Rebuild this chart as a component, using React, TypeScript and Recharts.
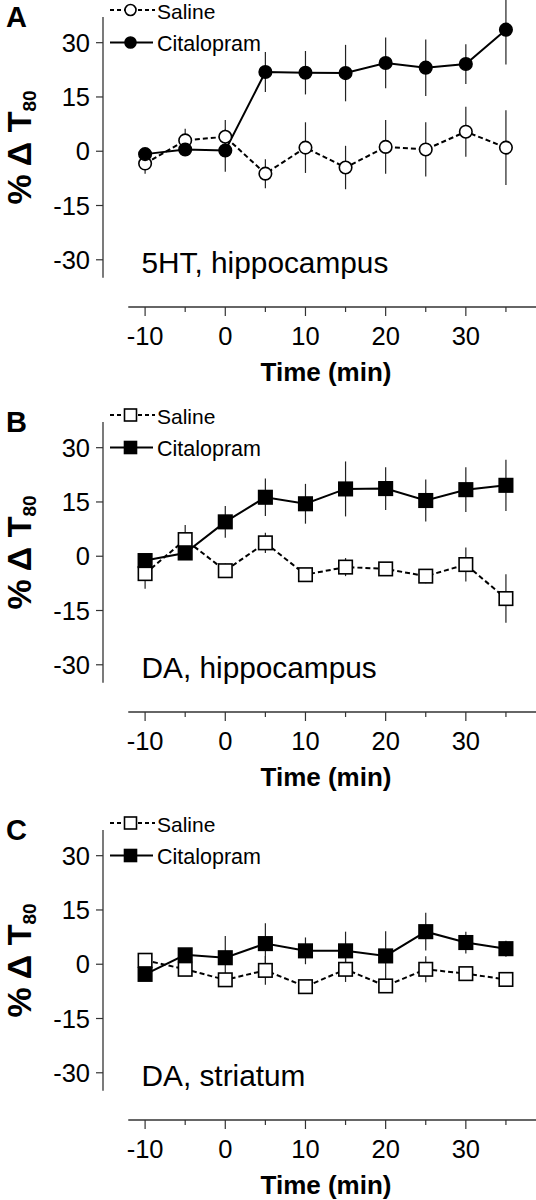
import React from 'react';
import { LineChart, Line, XAxis, YAxis, ErrorBar, ReferenceLine } from 'recharts';

// ---- data ----
const time = [-10, -5, 0, 5, 10, 15, 20, 25, 30, 35];
const xTicks = [-10, -5, 0, 5, 10, 15, 20, 25, 30, 35];
const xLabeled = [-10, 0, 10, 20, 30];
const yTicks = [-30, -15, 0, 15, 30];

const aSaline = [-3.4, 3.0, 4.0, -6.2, 1.0, -4.5, 1.2, 0.5, 5.4, 1.0];
const aSalineErr = [2.8, 3.2, 4.6, 4.0, 7.0, 6.0, 7.4, 7.5, 6.9, 10.3];
const aCit = [-0.8, 0.5, 0.2, 21.9, 21.7, 21.6, 24.4, 23.1, 24.1, 33.6];
const aCitErr = [1.5, 1.5, 5.9, 5.5, 6.0, 7.8, 7.0, 7.8, 5.5, 9.6];

const bSaline = [-4.8, 4.6, -4.0, 3.7, -5.1, -3.0, -3.5, -5.5, -2.3, -11.7];
const bSalineErr = [4.2, 4.0, 2.0, 2.8, 1.5, 2.5, 1.5, 2.0, 4.7, 6.7];
const bCit = [-1.2, 0.9, 9.5, 16.3, 14.5, 18.6, 18.7, 15.4, 18.4, 19.6];
const bCitErr = [1.5, 1.5, 4.4, 5.2, 5.5, 7.6, 5.9, 5.8, 6.2, 7.1];

const cSaline = [1.1, -1.4, -4.3, -1.7, -6.2, -1.4, -6.0, -1.4, -2.6, -4.2];
const cSalineErr = [1.5, 1.5, 1.5, 4.0, 1.5, 3.5, 1.5, 3.6, 1.5, 1.5];
const cCit = [-2.8, 2.6, 1.8, 5.7, 3.7, 3.7, 2.3, 9.0, 6.0, 4.3];
const cCitErr = [1.0, 1.5, 6.0, 5.6, 3.7, 5.3, 6.8, 5.2, 3.0, 2.2];

const seriesNames = ['Saline', 'Citalopram'];
const yLabelMain = '% \u0394 T';
const yLabelSub = '80';
const xLabel = 'Time (min)';

// ---- layout constants ----
const X_DOMAIN: [number, number] = [-15.25, 38.75];
const Y_DOMAIN: [number, number] = [-43.05, 37.1];
const X_LINE_START = -12.1;
const Y_LINE_BOTTOM = -35.0;
const FONT = '"Liberation Sans", Arial, Helvetica, sans-serif';

type PanelProps = {
  letter: string;
  note: string;
  saline: number[];
  salineErr: number[];
  cit: number[];
  citErr: number[];
  shape: 'circle' | 'square';
  top: number;
};

function makeDot(shape: 'circle' | 'square', filled: boolean, size: number) {
  return (p: any) => {
    const { cx, cy, index } = p;
    if (cx == null || cy == null) return <g key={`n${index}`} />;
    const fill = filled ? '#000' : '#fff';
    if (shape === 'circle') {
      return <circle key={`d${index}`} cx={cx} cy={cy} r={size / 2} fill={fill} stroke="#000" strokeWidth={1.6} />;
    }
    return (
      <rect key={`d${index}`} x={cx - size / 2} y={cy - size / 2} width={size} height={size} fill={fill} stroke="#000" strokeWidth={1.6} />
    );
  };
}

function LegendMark({ shape, filled, x, y }: { shape: 'circle' | 'square'; filled: boolean; x: number; y: number }) {
  const fill = filled ? '#000' : '#fff';
  if (shape === 'circle') return <circle cx={x} cy={y} r={5.5} fill={fill} stroke="#000" strokeWidth={1.6} />;
  return <rect x={x - 6} y={y - 6} width={12} height={12} fill={fill} stroke="#000" strokeWidth={1.6} />;
}

function Panel({ letter, note, saline, salineErr, cit, citErr, shape, top }: PanelProps) {
  const data = time.map((t, i) => ({
    t,
    sal: saline[i],
    salErr: salineErr[i],
    cit: cit[i],
    citErr: citErr[i],
  }));

  const xTick = (p: any) => {
    const v = p.payload.value;
    const major = xLabeled.includes(v);
    return (
      <g>
        <line x1={p.x} y1={p.y} x2={p.x} y2={p.y + (major ? 9 : 5)} stroke="#333" strokeWidth={1.2} />
        {major && (
          <text x={p.x} y={p.y + 38} textAnchor="middle" fontSize={25.5} fontFamily={FONT} fill="#000">
            {v}
          </text>
        )}
      </g>
    );
  };

  const yTick = (p: any) => (
    <g>
      <line x1={p.x} y1={p.y} x2={p.x - 7} y2={p.y} stroke="#333" strokeWidth={1.2} />
      <text x={p.x - 13} y={p.y + 9} textAnchor="end" fontSize={25.5} fontFamily={FONT} fill="#000">
        {p.payload.value}
      </text>
    </g>
  );

  return (
    <div style={{ position: 'absolute', left: 0, top, width: 536, height: 405 }}>
      <LineChart width={536} height={405} data={data} margin={{ top: 17, right: 0, bottom: 0, left: 0 }}>
        <XAxis
          dataKey="t"
          type="number"
          domain={X_DOMAIN}
          ticks={xTicks}
          allowDataOverflow
          axisLine={false}
          tickLine={false}
          tickSize={0}
          tickMargin={0}
          height={98}
          tick={xTick}
          interval={0}
        />
        <YAxis
          type="number"
          domain={Y_DOMAIN}
          ticks={yTicks}
          allowDataOverflow
          axisLine={false}
          tickLine={false}
          tickSize={0}
          tickMargin={0}
          width={103}
          tick={yTick}
          interval={0}
        />
        <ReferenceLine
          segment={[{ x: X_LINE_START, y: Y_DOMAIN[0] }, { x: X_DOMAIN[1], y: Y_DOMAIN[0] }]}
          stroke="#333"
          strokeWidth={1.3}
          ifOverflow="visible"
        />
        <ReferenceLine
          segment={[{ x: X_DOMAIN[0], y: Y_LINE_BOTTOM }, { x: X_DOMAIN[0], y: Y_DOMAIN[1] }]}
          stroke="#333"
          strokeWidth={1.3}
          ifOverflow="visible"
        />
        <Line
          dataKey="sal"
          type="linear"
          stroke="#000"
          strokeWidth={2}
          strokeDasharray="5 3"
          dot={makeDot(shape, false, shape === 'circle' ? 12.5 : 13.5)}
          activeDot={false}
          isAnimationActive={false}
        >
          <ErrorBar dataKey="salErr" direction="y" width={0} stroke="#222" strokeWidth={1.2} />
        </Line>
        <Line
          dataKey="cit"
          type="linear"
          stroke="#000"
          strokeWidth={2}
          dot={makeDot(shape, true, shape === 'circle' ? 12.5 : 13.5)}
          activeDot={false}
          isAnimationActive={false}
        >
          <ErrorBar dataKey="citErr" direction="y" width={0} stroke="#222" strokeWidth={1.2} />
        </Line>

        {/* panel letter */}
        <text x={6} y={27} fontSize={29} fontWeight="bold" fontFamily={FONT} fill="#000">
          {letter}
        </text>
        {/* y label */}
        <text
          transform="translate(31,147.5) rotate(-90)"
          textAnchor="middle"
          fontSize={34}
          fontWeight="bold"
          fontFamily={FONT}
          fill="#000"
        >
          {yLabelMain}
          <tspan fontSize={19} dy={5}>
            {yLabelSub}
          </tspan>
        </text>
        {/* legend */}
        <g>
          <line x1={110} y1={10} x2={155} y2={10} stroke="#000" strokeWidth={1.8} strokeDasharray="4 3" />
          <LegendMark shape={shape} filled={false} x={130.5} y={10} />
          <text x={157} y={19} fontSize={21} fontFamily={FONT} fill="#000">
            {seriesNames[0]}
          </text>
          <line x1={110} y1={42.5} x2={153} y2={42.5} stroke="#000" strokeWidth={2} />
          <LegendMark shape={shape} filled={true} x={130.5} y={42.5} />
          <text x={157} y={51} fontSize={21.5} fontFamily={FONT} fill="#000">
            {seriesNames[1]}
          </text>
        </g>
        {/* annotation */}
        <text x={141.5} y={272.5} fontSize={29.8} fontFamily={FONT} fill="#000">
          {note}
        </text>
        {/* x label */}
        <text x={326} y={381} textAnchor="middle" fontSize={26} fontWeight="bold" fontFamily={FONT} fill="#000">
          {xLabel}
        </text>
      </LineChart>
    </div>
  );
}

export default function App() {
  return (
    <div style={{ position: 'absolute', left: 0, top: 0, width: 536, height: 1200, overflow: 'hidden', background: '#fff' }}>
      <Panel letter="A" note="5HT, hippocampus" saline={aSaline} salineErr={aSalineErr} cit={aCit} citErr={aCitErr} shape="circle" top={0} />
      <Panel letter="B" note="DA, hippocampus" saline={bSaline} salineErr={bSalineErr} cit={bCit} citErr={bCitErr} shape="square" top={405} />
      <Panel letter="C" note="DA, striatum" saline={cSaline} salineErr={cSalineErr} cit={cCit} citErr={cCitErr} shape="square" top={813} />
    </div>
  );
}
